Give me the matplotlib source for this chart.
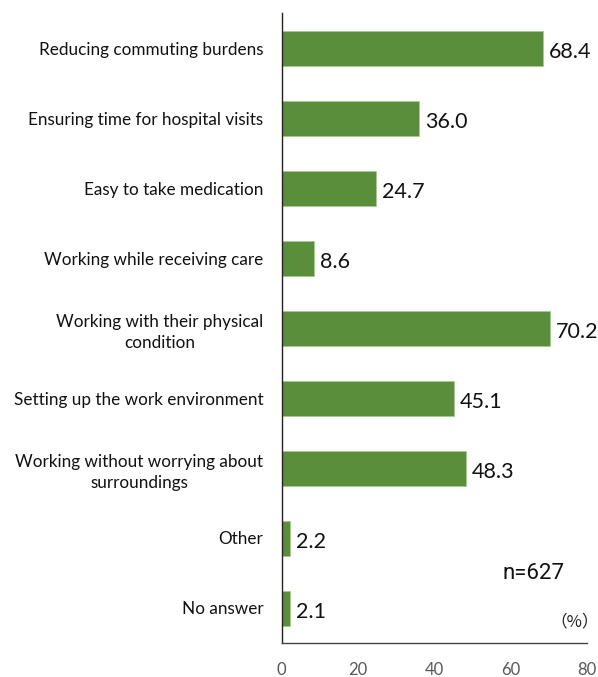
import matplotlib
matplotlib.use("Agg")
import matplotlib.pyplot as plt

categories = [
    "Reducing commuting burdens",
    "Ensuring time for hospital visits",
    "Easy to take medication",
    "Working while receiving care",
    "Working with their physical\ncondition",
    "Setting up the work environment",
    "Working without worrying about\nsurroundings",
    "Other",
    "No answer",
]
values = [68.4, 36.0, 24.7, 8.6, 70.2, 45.1, 48.3, 2.2, 2.1]
xticks = [0, 20, 40, 60, 80]

fig = plt.figure(figsize=(5.98, 6.77), dpi=100)
ax = fig.add_axes([281.5 / 598, 34 / 677, (587 - 281.5) / 598, 630 / 677])

ypos = list(range(len(categories)))
ax.barh(ypos, values, height=0.5, color="#5B8E3B", edgecolor="#A9C98F", linewidth=0.6)
ax.set_ylim(len(categories) - 0.5, -0.5)
ax.set_xlim(0, 80)
ax.set_yticks(ypos)
ax.set_yticklabels(categories, fontsize=12.3, family="Lato", color="#111111",
                   ha="right", multialignment="center", linespacing=1.45)
ax.tick_params(axis="y", length=0, pad=13)
ax.set_xticks(xticks)
ax.set_xticklabels([str(t) for t in xticks], fontsize=12, family="Lato", color="#595959")
ax.tick_params(axis="x", length=0, pad=13.5)

for s in ["top", "right"]:
    ax.spines[s].set_visible(False)
ax.spines["left"].set_color("#222222")
ax.spines["bottom"].set_color("#444444")
ax.spines["left"].set_linewidth(1.0)
ax.spines["bottom"].set_linewidth(1.0)

for y, v in zip(ypos, values):
    ax.text(v + 1.6, y + 0.05, f"{v:.1f}", va="center", ha="left", fontsize=15.5,
            family="Lato", color="#111111", clip_on=False)

ax.text(0.825, 0.11, "n=627", transform=ax.transAxes, fontsize=16, family="Roboto",
        ha="center", va="center", color="#111111")
ax.text(0.96, 0.033, "（%）", transform=ax.transAxes, fontsize=12,
        family=["Noto Sans CJK JP", "DejaVu Sans"], ha="center", va="center", color="#222222")

fig.savefig("out.png", dpi=100)
